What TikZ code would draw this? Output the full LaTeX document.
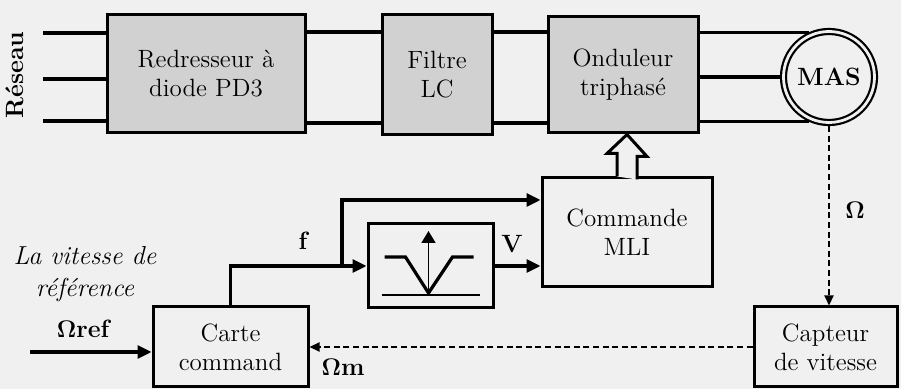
\documentclass[tikz,border=0pt]{standalone}
\usepackage{amsmath}
\usetikzlibrary{arrows.meta}
\definecolor{paper}{gray}{0.94}
\definecolor{boxgray}{gray}{0.82}

\begin{document}
\begin{tikzpicture}[x=0.5pt, y=-0.5pt,
	block/.style={shape=rectangle, draw, line width=1.5pt, align=center, inner sep=0pt, font=\fontsize{12.5}{14.5}\selectfont},
	power/.style={block, fill=boxgray},
	wire/.style={line width=1.6pt},
	sig/.style={line width=1.6pt, -{Triangle[length=7pt, width=6.5pt]}},
	meas/.style={line width=1.1pt, dash pattern=on 3pt off 1.8pt, -{Triangle[length=5pt, width=4.5pt]}},
	lbl/.style={font=\fontsize{12.5}{15}\selectfont\bfseries}]
	\useasboundingbox (0, 0) rectangle (901, 389);
	\fill[paper] (0, 0) rectangle (901, 389);
	% Power part:
	\node[power, minimum width=99pt, minimum height=59pt] (red) at (206, 74) {Redresseur \`a\\diode PD3};
	\node[power, minimum width=55pt, minimum height=60pt] (fil) at (437, 75) {Filtre\\LC};
	\node[power, minimum width=75pt, minimum height=58pt] (ond) at (623, 75) {Onduleur\\triphas\'e};
	\node[shape=circle, draw, double=paper, double distance=1.4pt, line width=1.1pt, fill=paper, minimum size=45.5pt, inner sep=0pt, outer sep=1.8pt, font=\fontsize{12.5}{14}\selectfont\bfseries] (mas) at (829, 77) {MAS};
	\node[lbl, rotate=90] (res) at (15, 75) {R\'eseau};
	\coordinate (in1) at (43, 33);
	\coordinate (in2) at (43, 79);
	\coordinate (in3) at (43, 121);
	\coordinate (hi) at (0, 32);
	\coordinate (lo) at (0, 123);
	\draw[wire] (in1) -- (in1 -| red.west);
	\draw[wire] (in2) -- (in2 -| red.west);
	\draw[wire] (in3) -- (in3 -| red.west);
	\draw[wire] (red.east |- hi) -- (fil.west |- hi);
	\draw[wire] (red.east |- lo) -- (fil.west |- lo);
	\draw[wire] (fil.east |- hi) -- (ond.west |- hi);
	\draw[wire] (fil.east |- lo) -- (ond.west |- lo);
	\draw[wire] (ond.east |- mas.114) -- (mas.114);
	\draw[wire] (ond.east |- mas.west) -- (mas.west);
	\draw[wire] (ond.east |- mas.246) -- (mas.246);
	% Control part:
	\node[block, minimum width=85pt, minimum height=54.5pt] (mli) at (627, 232.5) {Commande\\MLI};
	\node[block, minimum width=62.5pt, minimum height=42pt] (lim) at (430.5, 266) {};
	\node[block, minimum width=77.5pt, minimum height=40pt] (carte) at (230.5, 347) {Carte\\command};
	\node[block, minimum width=71.5pt, minimum height=40pt] (cap) at (825.5, 347) {Capteur\\de vitesse};
	\draw[line width=1.5pt, fill=paper] (mli.north) ++(-10, 0) -- ++(0, -23) -- ++(-10, 0) -- (mli.north |- ond.south) -- ++(20, 22) -- ++(-10, 0) -- ++(0, 23);
	\begin{scope}[shift={(lim.center)}]
		\draw[line width=0.9pt] (-49, 29) -- (49, 29);
		\draw[line width=0.9pt, -{Triangle[length=6pt, width=7pt]}] (-2, 29) -- (-2, -35);
		\draw[line width=1.6pt] (-46, -9) -- (-25, -9) -- (-2, 27) -- (22, -9) -- (43, -9);
	\end{scope}
	\coordinate (fb) at (342, 0);
	\coordinate (refin) at (30, 352);
	\draw[sig] (carte.north) |- (lim.west);
	\draw[sig] (fb |- lim.west) |- (mli.west |- 0, 200);
	\draw[sig] (lim.east) -- (mli.west |- lim.east);
	\draw[sig] (refin) -- (refin -| carte.west);
	\draw[meas] (mas.south) -- (mas.south |- cap.north);
	\draw[meas] (cap.west) -- (carte.east);
	% Labels:
	\node[font=\fontsize{13}{16}\selectfont\itshape, align=center] (vref) at (85, 274) {La vitesse de\\r\'ef\'erence};
	\node[lbl] (oref) at (83, 329) {$\mathbf{\Omega}$ref};
	\node[lbl] (lf) at (303, 241) {f};
	\node[lbl] (lv) at (512, 244) {V};
	\node[lbl] (lw) at (855, 210) {$\mathbf{\Omega}$};
	\node[lbl] (lwm) at (343, 367) {$\mathbf{\Omega}$m};
\end{tikzpicture}
\end{document}
